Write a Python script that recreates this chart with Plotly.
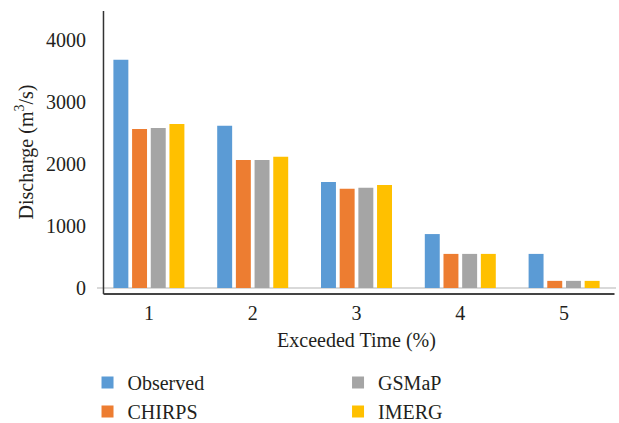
import plotly.graph_objects as go

categories = ["1", "2", "3", "4", "5"]
observed = [3680, 2615, 1710, 870, 550]
chirps = [2565, 2065, 1600, 550, 115]
gsmap = [2580, 2065, 1615, 550, 115]
imerg = [2645, 2115, 1660, 550, 115]

series = [
    ("Observed", observed, "#5B9BD5", "legend", 1),
    ("CHIRPS", chirps, "#ED7D31", "legend", 2),
    ("GSMaP", gsmap, "#A5A5A5", "legend2", 1),
    ("IMERG", imerg, "#FFC000", "legend2", 2),
]

W, H = 619, 423
L, R, T, B = 96.5, 2.5, 10, 129
pw, ph = W - L - R, H - T - B

fig = go.Figure()
for name, vals, color, lg, rank in series:
    fig.add_trace(go.Bar(x=categories, y=vals, name=name, marker_color=color,
                         marker_line_width=0, legend=lg, legendrank=rank))

font = dict(family="Liberation Serif", size=20, color="#231f20")

def px_x(x):
    return (x - L) / pw

def px_y(y):
    return 1 - (y - T) / ph

fig.update_layout(
    width=W, height=H,
    margin=dict(l=L, r=R, t=T, b=B, autoexpand=False),
    paper_bgcolor="white", plot_bgcolor="white",
    font=font,
    barmode="group", bargap=0.28, bargroupgap=0.2,
    xaxis=dict(type="category", range=[-0.5, 4.5], showgrid=False, showline=False,
               zeroline=False, ticks="outside", ticklen=1, tickcolor="rgba(0,0,0,0)",
               tickfont=font, automargin=False,
               title=dict(text="Exceeded Time (%)", font=font, standoff=9)),
    yaxis=dict(range=[-96.8, 4484], tickvals=[0, 1000, 2000, 3000, 4000],
               showgrid=False, showline=False, zeroline=True, automargin=False,
               zerolinecolor="#d9d9d9", zerolinewidth=2,
               ticks="outside", ticklen=6, tickcolor="rgba(0,0,0,0)",
               tickfont=font,
               title=dict(text="Discharge (m<sup>3</sup>/s)", font=font, standoff=7)),
    legend=dict(x=px_x(87), y=px_y(363), xanchor="left", yanchor="top",
                orientation="v", font=font, bgcolor="rgba(0,0,0,0)", tracegroupgap=0),
    legend2=dict(x=px_x(338), y=px_y(363), xanchor="left", yanchor="top",
                 orientation="v", font=font, bgcolor="rgba(0,0,0,0)", tracegroupgap=0),
    shapes=[
        dict(type="line", xref="paper", yref="paper", x0=px_x(103), x1=px_x(103),
             y0=px_y(11), y1=px_y(294), line=dict(color="#333333", width=1.5)),
        dict(type="line", xref="paper", yref="paper", x0=px_x(103), x1=px_x(615),
             y0=px_y(294), y1=px_y(294), line=dict(color="#444444", width=2)),
    ],
)

fig.write_html("out.html")
